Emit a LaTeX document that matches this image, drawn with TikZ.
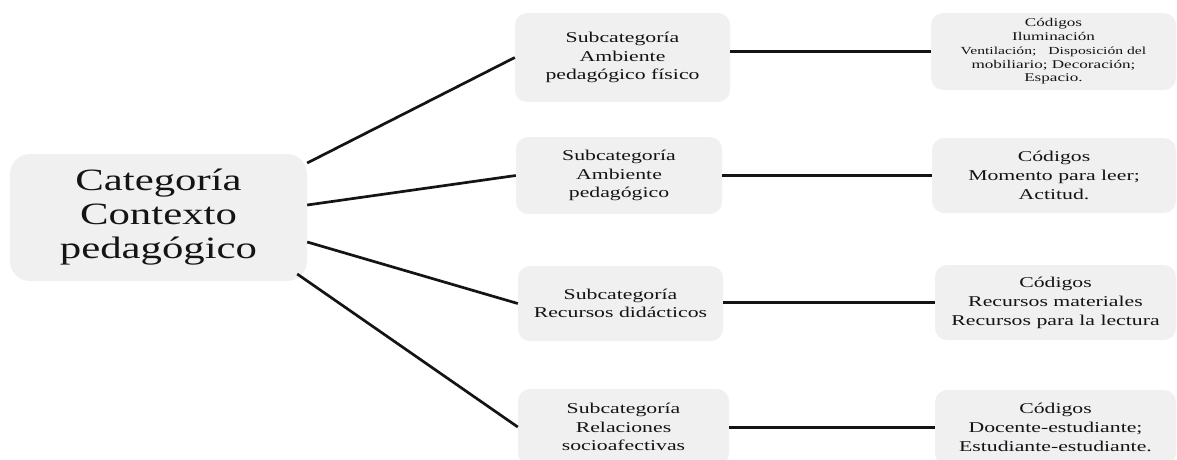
\documentclass[tikz,border=0pt]{standalone}
\usepackage{fontspec}
\setmainfont{Liberation Serif}
\newfontfamily\catfont{Liberation Serif}[FakeStretch=1.38]
\newfontfamily\boxfont{Liberation Serif}[FakeStretch=1.45]
\definecolor{boxfill}{RGB}{240,240,240}
\definecolor{inkline}{RGB}{20,20,20}
\begin{document}
\begin{tikzpicture}[x=1pt,y=-1pt,
  card/.style={fill=boxfill,draw=none,rounded corners=12pt,align=center,
    inner sep=0pt,text=inkline},
  cattext/.style={font=\catfont\fontsize{31}{34}\selectfont},
  subtext/.style={font=\boxfont\fontsize{15}{18.4}\selectfont},
  codetext/.style={font=\boxfont\fontsize{15}{19}\selectfont},
  tinytext/.style={font=\boxfont\fontsize{11.8}{13.8}\selectfont},
  link/.style={draw=inkline,line width=2.7pt}]
\useasboundingbox (0,0) rectangle (1177,459);

% main category
\node[card,rounded corners=20pt,minimum width=297pt,minimum height=127pt,cattext]
  (cat) at (158.5,217.5) {Categoría\\Contexto\\pedagógico};

% subcategories
\node[card,minimum width=215pt,minimum height=89pt,subtext]
  (s1) at (622.5,57.5) {Subcategoría\\Ambiente\\pedagógico físico};
\node[card,minimum width=206pt,minimum height=77pt,subtext]
  (s2) at (619,175.5) {Subcategoría\\Ambiente\\pedagógico};
\node[card,minimum width=205pt,minimum height=75pt,subtext]
  (s3) at (620.5,303.5) {Subcategoría\\Recursos didácticos};
\node[card,minimum width=211pt,minimum height=76pt,subtext]
  (s4) at (623.5,427) {Subcategoría\\Relaciones\\socioafectivas};

% codes
\node[card,minimum width=245pt,minimum height=77pt,tinytext]
  (c1) at (1053.5,51.5) {Códigos\\Iluminación\\{\fontsize{10.8}{13.8}\selectfont Ventilación;\hspace{12pt}Disposición del}\\mobiliario;\ Decoración;\\Espacio.};
\node[card,minimum width=244pt,minimum height=75pt,codetext]
  (c2) at (1054,175.5) {Códigos\\Momento para leer;\\Actitud.};
\node[card,minimum width=241pt,minimum height=75pt,codetext]
  (c3) at (1055.5,302.5) {Códigos\\Recursos materiales\\Recursos para la lectura};
\node[card,minimum width=241pt,minimum height=75pt,codetext]
  (c4) at (1055.5,427.5) {Códigos\\Docente-estudiante;\\Estudiante-estudiante.};

% category to subcategories
\draw[link] ([yshift=54.5pt]cat.east) -- (s1.west);
\draw[link] ([yshift=12.5pt]cat.east) -- (s2.west);
\draw[link] ([yshift=-24.5pt]cat.east) -- (s3.west);
\draw[link] ([xshift=-10pt,yshift=-56.5pt]cat.east) -- (s4.west);

% subcategories to codes
\draw[link] (s1.east |- c1.west) -- (c1.west);
\draw[link] (s2.east |- c2.west) -- (c2.west);
\draw[link] (s3.east |- c3.west) -- (c3.west);
\draw[link] (s4.east |- c4.west) -- (c4.west);
\end{tikzpicture}
\end{document}
